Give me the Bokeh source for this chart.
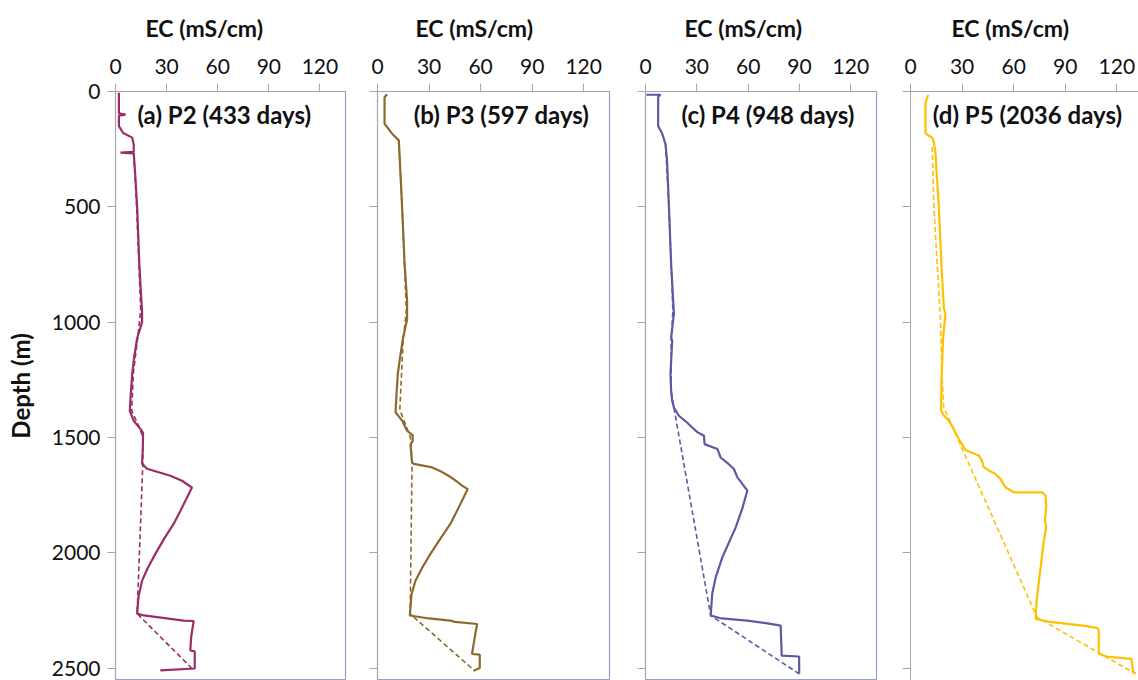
from bokeh.plotting import figure
from bokeh.layouts import row
from bokeh.models import Range1d, FixedTicker, Label
from bokeh.embed import file_html
from bokeh.resources import INLINE

# ---------------- data ----------------
ec_ticks = [0, 30, 60, 90, 120]
depth_ticks = [0, 500, 1000, 1500, 2000, 2500]
x_title = "EC (mS/cm)"
y_title = "Depth (m)"
panel_titles = ["(a) P2 (433 days)", "(b) P3 (597 days)", "(c) P4 (948 days)", "(d) P5 (2036 days)"]
colors = ["#9B2D66", "#8C6A2E", "#5B5BA3", "#FFC000"]

# P2 (433 days)
p2_ec = [2.0, 2.0, 5.9, 2.0, 2.0, 4.5, 9.8, 10.7, 10.7, 2.9, 10.7, 11.5, 12.7, 14.0, 15.6, 15.6,
         12.7, 11.0, 9.8, 8.8, 8.4, 10.7, 14.6, 16.2, 16.0, 15.6, 18.5, 32.2, 39.0, 44.9, 42.0,
         38.0, 34.1, 28.5, 23.4, 19.0, 15.6, 13.5, 12.7, 16.6, 40.0, 45.9, 44.5, 43.9, 46.5, 46.5, 26.3]
p2_depth = [5, 95, 100, 105, 150, 180, 200, 230, 262, 265, 268, 350, 500, 750, 960, 1000,
            1070, 1150, 1225, 1330, 1385, 1428, 1463, 1480, 1550, 1614, 1636, 1666, 1688, 1717, 1760,
            1820, 1875, 1940, 2005, 2065, 2121, 2190, 2264, 2272, 2294, 2296, 2360, 2424, 2428, 2502, 2510]
p2_base_ec = [10.7, 12.4, 14.8, 13.0, 10.5, 9.5, 13.0, 16.2, 16.0, 12.7, 44.9]
p2_base_depth = [268, 500, 950, 1070, 1220, 1385, 1440, 1500, 1620, 2264, 2502]

# P3 (597 days)
p3_ec = [5.6, 4.1, 4.1, 8.5, 12.4, 13.0, 14.3, 15.8, 17.2, 17.2, 14.9, 13.0, 11.8, 11.0, 10.5,
         14.3, 17.2, 20.5, 20.5, 19.2, 20.1, 21.1, 31.8, 37.0, 41.5, 46.0, 49.2, 52.5, 47.5, 42.4,
         36.5, 30.8, 26.0, 22.1, 19.8, 19.2, 18.8, 30.0, 42.4, 45.0, 58.0, 56.5, 55.0, 59.5, 59.5, 56.0]
p3_depth = [12, 25, 140, 183, 212, 300, 500, 750, 905, 990, 1067, 1160, 1225, 1320, 1391,
            1427, 1471, 1491, 1515, 1530, 1608, 1615, 1630, 1648, 1667, 1690, 1709, 1724, 1800, 1875,
            1940, 2005, 2065, 2121, 2180, 2236, 2272, 2285, 2294, 2300, 2309, 2370, 2439, 2442, 2500, 2512]
p3_base_ec = [12.4, 14.3, 16.8, 14.9, 13.0, 19.2, 20.1, 19.0, 56.5]
p3_base_depth = [215, 500, 950, 1081, 1380, 1500, 1608, 2265, 2512]

# P4 (948 days)
p4_ec = [0.5, 8.8, 7.4, 7.4, 9.8, 11.7, 12.6, 13.7, 15.0, 16.6, 15.0, 15.6, 14.6, 15.0, 15.6,
         16.6, 19.5, 23.5, 27.3, 30.5, 34.2, 34.5, 42.0, 43.9, 48.5, 51.7, 53.7, 56.5, 59.5, 56.5,
         52.7, 48.5, 44.9, 41.0, 39.0, 38.1, 44.5, 59.5, 70.5, 79.0, 79.6, 89.8, 89.8]
p4_depth = [14, 14, 22, 150, 183, 229, 300, 500, 750, 963, 1067, 1081, 1225, 1300, 1341,
            1370, 1406, 1430, 1457, 1478, 1493, 1529, 1550, 1587, 1615, 1637, 1673, 1700, 1731, 1810,
            1890, 1960, 2020, 2107, 2178, 2272, 2285, 2294, 2305, 2316, 2446, 2450, 2525]
p4_base_ec = [11.7, 13.7, 16.0, 15.0, 15.0, 16.6, 38.1, 89.8]
p4_base_depth = [229, 500, 950, 1081, 1300, 1370, 2272, 2525]

# P5 (2036 days)
p5_ec = [10.3, 8.7, 8.7, 10.3, 12.6, 13.6, 14.5, 15.2, 16.5, 18.0, 19.4, 20.3, 19.0, 18.5, 18.0,
         17.8, 19.4, 22.3, 25.0, 28.0, 31.0, 32.5, 39.7, 41.5, 42.6, 45.5, 49.4, 52.3, 55.2, 60.1,
         76.5, 78.5, 78.9, 78.2, 78.9, 77.5, 75.2, 73.3, 72.8, 81.0, 99.0, 108.5, 109.5, 109.5, 114.0,
         128.5, 129.5, 130.8]
p5_depth = [14, 50, 180, 190, 200, 220, 263, 350, 502, 750, 940, 964, 1067, 1150, 1253,
            1383, 1405, 1427, 1462, 1505, 1543, 1557, 1578, 1600, 1629, 1643, 1658, 1680, 1716, 1738,
            1738, 1752, 1800, 1860, 1889, 1950, 2092, 2210, 2287, 2300, 2315, 2326, 2337, 2438, 2450,
            2460, 2515, 2525]
p5_base_ec = [12.6, 13.6, 15.5, 17.4, 17.8, 18.4, 19.4, 73.6, 130.8]
p5_base_depth = [241, 500, 750, 988, 1080, 1250, 1370, 2280, 2525]

series = [
    (p2_ec, p2_depth, p2_base_ec, p2_base_depth),
    (p3_ec, p3_depth, p3_base_ec, p3_base_depth),
    (p4_ec, p4_depth, p4_base_ec, p4_base_depth),
    (p5_ec, p5_depth, p5_base_ec, p5_base_depth),
]

# ---------------- layout ----------------
FONT = "Lato"
# (min_border_left, frame width, min_border_right, x max)
geom = [(115, 230, 16, 135.0), (16, 232, 18, 135.0), (18, 231, 17, 135.0), (17, 228, 0, 132.6)]
title_offset = [30, 38, 39, 41]
label_x = [12.9, 21.1, 21.1, 13.0]
H = 680
TOP = 91
YMAX = 2554

figs = []
for i in range(4):
    bl, fw, br, xmax = geom[i]
    p = figure(width=bl + fw + br, height=H,
               x_range=Range1d(0, xmax), y_range=Range1d(YMAX, 0),
               x_axis_location="above", output_backend="svg", toolbar_location=None,
               min_border_left=bl, min_border_right=br, min_border_top=TOP, min_border_bottom=0,
               title=x_title, title_location="above")
    p.title.align = "left"
    p.title.vertical_align = "top"
    p.title.offset = title_offset[i]
    p.title.text_font = FONT
    p.title.text_font_size = "23px"
    p.title.text_font_style = "bold"
    p.title.text_color = "#111111"
    p.title.standoff = 24

    p.grid.visible = False
    p.outline_line_color = "#9C9CCB" if i < 3 else None
    p.outline_line_width = 1.2
    p.background_fill_color = "white"
    p.border_fill_color = "white"

    xa = p.xaxis[0]
    xa.ticker = FixedTicker(ticks=ec_ticks)
    xa.axis_line_color = "#A6A6A6"
    xa.major_tick_line_color = "#A6A6A6"
    xa.major_tick_out = 8
    xa.major_tick_in = 0
    xa.minor_tick_out = 0
    xa.minor_tick_in = 0
    xa.major_label_standoff = 10
    xa.major_label_text_font = FONT
    xa.major_label_text_font_size = "21px"
    xa.major_label_text_color = "#111111"

    ya = p.yaxis[0]
    ya.ticker = FixedTicker(ticks=depth_ticks)
    ya.axis_line_color = "#A6A6A6"
    ya.major_tick_line_color = "#A6A6A6"
    ya.major_tick_out = 8
    ya.major_tick_in = 0
    ya.minor_tick_out = 0
    ya.minor_tick_in = 0
    if i == 0:
        ya.major_label_standoff = 7
        ya.major_label_text_font = FONT
        ya.major_label_text_font_size = "21px"
        ya.major_label_text_color = "#111111"
        ya.axis_label = y_title
        ya.axis_label_text_font = FONT
        ya.axis_label_text_font_size = "24px"
        ya.axis_label_text_font_style = "bold"
        ya.axis_label_text_color = "#111111"
        ya.axis_label_standoff = 14
    else:
        ya.major_label_standoff = 0
        ya.major_label_text_font_size = "0px"
        ya.major_label_text_color = None

    ec, dep, bec, bdep = series[i]
    p.line(ec, dep, line_color=colors[i], line_width=2.2)
    p.line(bec, bdep, line_color=colors[i], line_width=1.6, line_dash="5 3")

    p.add_layout(Label(x=label_x[i], y=100, text=panel_titles[i], text_align="left",
                       text_baseline="middle", text_font=FONT, text_font_size="24px",
                       text_font_style="bold", text_color="#111111"))
    figs.append(p)

layout = row(*figs, spacing=0)
open("out.html", "w").write(file_html(layout, INLINE))
